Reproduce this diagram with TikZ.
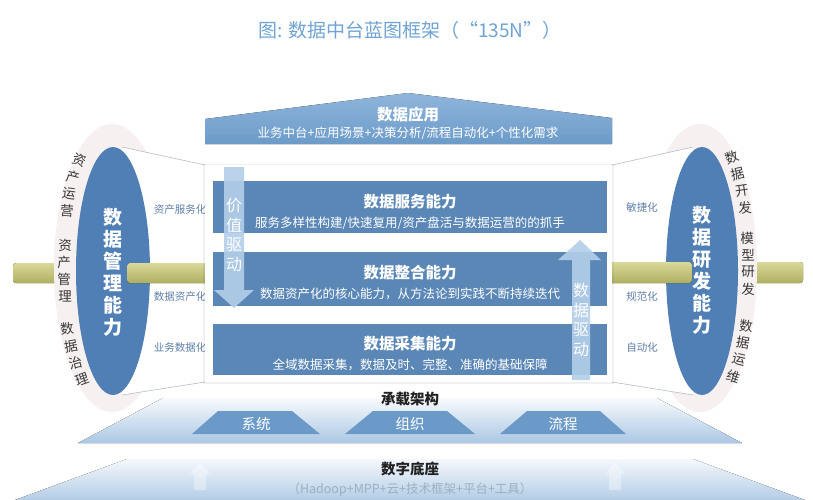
\documentclass[tikz,border=0pt]{standalone}
\usepackage{fontspec}
\setmainfont{Noto Sans CJK SC}
\usetikzlibrary{shapes.geometric}
\definecolor{boxblue}{HTML}{5B87B7}
\definecolor{ellblue}{HTML}{4F7FB4}
\definecolor{rooftop}{HTML}{8FB5DB}
\definecolor{roofbot}{HTML}{6C9BC9}
\definecolor{arrowblue}{HTML}{B3CEE8}
\definecolor{pipetop}{HTML}{D9D99A}
\definecolor{pipebot}{HTML}{AFAF62}
\definecolor{pale}{HTML}{F7F0F0}
\definecolor{titleblue}{HTML}{6FA3D3}
\definecolor{lblgray}{HTML}{5F80A8}
\definecolor{platblue}{HTML}{A6C4E2}
\definecolor{trapblue}{HTML}{6C9AC8}
\definecolor{hadoop}{HTML}{9DAFC3}
\definecolor{conegray}{HTML}{B5BDC6}
\definecolor{darktext}{HTML}{222222}
\tikzset{
  txt/.style={inner sep=0pt, outer sep=0pt},
  titletext/.style={txt, text=titleblue, font=\fontsize{19}{22}\selectfont},
  headtext/.style={txt, text=white, font=\fontsize{15.5}{18}\selectfont\bfseries},
  subtext/.style={txt, text=white, font=\fontsize{12.5}{15}\selectfont},
  vtext/.style={txt, align=center, text=white, font=\fontsize{16}{19.5}\selectfont},
  ellvtext/.style={txt, align=center, text=white, font=\fontsize{19}{22}\selectfont\bfseries},
  conelabel/.style={txt, text=lblgray, font=\fontsize{10.5}{12}\selectfont},
  bandchar/.style={txt, text=darktext!90, font=\fontsize{13.5}{15}\selectfont},
  baselabel/.style={txt, text=darktext, font=\fontsize{14.5}{17}\selectfont\bfseries},
  traplabel/.style={txt, text=white, font=\fontsize{14.5}{17}\selectfont},
  pipeshape/.style={top color=pipetop, bottom color=pipebot, rounded corners=3pt},
  paleshape/.style={ellipse, fill=pale, inner sep=0pt},
  blueell/.style={ellipse, fill=ellblue, inner sep=0pt},
  conefill/.style={fill=white},
  coneline/.style={draw=conegray, line width=0.6pt},
  layerbox/.style={fill=boxblue},
  flowarrow/.style={fill=arrowblue, fill opacity=0.9},
  fadearrow/.style={fill=white, fill opacity=0.35},
}
\begin{document}
\begin{tikzpicture}[x=1pt,y=-1pt]
\useasboundingbox (0,0) rectangle (813,500);

% title
\node[titletext] (title) at (410,30) {图: 数据中台蓝图框架（“135N”）};

% ---------- bottom: base ----------
\fill[top color=platblue!12, bottom color=platblue!85] (127,459) -- (693,459) -- (805,500) -- (15,500) -- cycle;
\fill[fadearrow] (200,462) -- (210,474) -- (206,474) -- (206,490) -- (194,490) -- (194,474) -- (190,474) -- cycle;
\fill[fadearrow] (615,462) -- (625,474) -- (621,474) -- (621,490) -- (609,490) -- (609,474) -- (605,474) -- cycle;
\node[baselabel] (base) at (410,469) {数字底座};
\node[txt, text=hadoop, font=\fontsize{12.5}{15}\selectfont] (hadoop) at (410,490) {（Hadoop+MPP+云+技术框架+平台+工具）};

% ---------- bottom: carrying architecture ----------
\fill[top color=platblue!8, bottom color=platblue!95] (163,398) -- (657,398) -- (742,443) -- (78,443) -- cycle;
\fill[trapblue] (218,411) -- (292,411) -- (320,434) -- (192,434) -- cycle;
\fill[trapblue] (373,411) -- (447,411) -- (475,434) -- (345,434) -- cycle;
\fill[trapblue] (527,411) -- (600,411) -- (626,434) -- (500,434) -- cycle;
\node[baselabel] (carry) at (410,399) {承载架构};
\node[traplabel] (sys) at (256,424) {系统};
\node[traplabel] (org) at (410,424) {组织};
\node[traplabel] (proc) at (563,424) {流程};

% ---------- left: management ----------
\fill[pipeshape] (13,263) rectangle (58,283);
\node[paleshape, minimum width=116pt, minimum height=288pt] (lpale) at (112,268) {};
\coordinate (lct) at (122,147);
\coordinate (lcb) at (122,395);
\coordinate (lpt) at (205,165);
\coordinate (lpb) at (205,382);
\fill[conefill] (lct) -- (lpt) -- (lpb) -- (lcb) -- cycle;
\draw[coneline] (lct) -- (lpt) (lcb) -- (lpb);
\node[blueell, minimum width=74pt, minimum height=248pt] (lell) at (113,271) {};
\fill[pipeshape] (127,263) rectangle (212,283);
\node[ellvtext] (lelltxt) at (113,272) {数\\据\\管\\理\\能\\力};
\node[conelabel] (l1) at (180,210) {资产服务化};
\node[conelabel] (l2) at (180,297) {数据资产化};
\node[conelabel] (l3) at (180,348) {业务数据化};
\node[bandchar, rotate=-20] (la1) at (80,160) {资};
\node[bandchar, rotate=-14] (la2) at (73,177) {产};
\node[bandchar, rotate=-8] (la3) at (69,194) {运};
\node[bandchar, rotate=-4] (la4) at (67,211) {营};
\node[bandchar] (lb1) at (65,245) {资};
\node[bandchar] (lb2) at (64,262) {产};
\node[bandchar] (lb3) at (64,279) {管};
\node[bandchar] (lb4) at (65,296) {理};
\node[bandchar, rotate=6] (lc1) at (67,329) {数};
\node[bandchar, rotate=10] (lc2) at (71,346) {据};
\node[bandchar, rotate=14] (lc3) at (76,363) {治};
\node[bandchar, rotate=19] (lc4) at (82,380) {理};

% ---------- right: development ----------
\fill[pipeshape] (752,262) rectangle (803,283);
\node[paleshape, minimum width=114pt, minimum height=288pt] (rpale) at (700,268) {};
\coordinate (rct) at (693,147);
\coordinate (rcb) at (693,395);
\coordinate (rpt) at (612,165);
\coordinate (rpb) at (612,382);
\fill[conefill] (rct) -- (rpt) -- (rpb) -- (rcb) -- cycle;
\draw[coneline] (rct) -- (rpt) (rcb) -- (rpb);
\node[blueell, minimum width=72pt, minimum height=248pt] (rell) at (702,271) {};
\fill[pipeshape] (605,262) rectangle (692,283);
\node[ellvtext] (relltxt) at (702,270) {数\\据\\研\\发\\能\\力};
\node[conelabel] (r1) at (642,208) {敏捷化};
\node[conelabel] (r2) at (642,297) {规范化};
\node[conelabel] (r3) at (642,348) {自动化};
\node[bandchar, rotate=20] (ra1) at (732,157) {数};
\node[bandchar, rotate=14] (ra2) at (738,174) {据};
\node[bandchar, rotate=8] (ra3) at (742,191) {开};
\node[bandchar, rotate=4] (ra4) at (745,208) {发};
\node[bandchar] (rb1) at (747,238) {模};
\node[bandchar] (rb2) at (748,255) {型};
\node[bandchar] (rb3) at (748,272) {研};
\node[bandchar] (rb4) at (748,289) {发};
\node[bandchar, rotate=-6] (rc1) at (746,326) {数};
\node[bandchar, rotate=-10] (rc2) at (743,343) {据};
\node[bandchar, rotate=-14] (rc3) at (739,360) {运};
\node[bandchar, rotate=-19] (rc4) at (734,377) {维};

% ---------- central panel ----------
\fill[black, opacity=0.06] (203,164) rectangle (614,384);
\fill[white] (205,165) rectangle (612,382);

% roof
\fill[top color=rooftop, bottom color=roofbot] (205,144) -- (205,119) -- (408,93) -- (612,118) -- (612,144) -- cycle;
\node[headtext] (apphead) at (408,115) {数据应用};
\node[subtext] (appsub) at (408,133) {业务中台+应用场景+决策分析/流程自动化+个性化需求};

% layers
\fill[layerbox] (213,181) rectangle (607,233);
\fill[layerbox] (213,252) rectangle (607,306);
\fill[layerbox] (213,324) rectangle (607,375);
\node[headtext] (svchead) at (410,202) {数据服务能力};
\node[subtext] (svcsub) at (410,223) {服务多样性构建/快速复用/资产盘活与数据运营的的抓手};
\node[headtext] (inthead) at (410,273) {数据整合能力};
\node[subtext] (intsub) at (410,294) {数据资产化的核心能力，从方法论到实践不断持续迭代};
\node[headtext] (colhead) at (410,344) {数据采集能力};
\node[subtext] (colsub) at (410,365) {全域数据采集，数据及时、完整、准确的基础保障};

% value-driven arrow (down)
\fill[flowarrow] (224,167) -- (244,167) -- (244,290) -- (254,290) -- (234,308) -- (214,290) -- (224,290) -- cycle;
\node[vtext] (vdrive) at (234,235) {价\\值\\驱\\动};
% data-driven arrow (up)
\fill[flowarrow] (572,380) -- (590,380) -- (590,260) -- (601,260) -- (580,240) -- (558,260) -- (572,260) -- cycle;
\node[vtext] (ddrive) at (581,320) {数\\据\\驱\\动};
\end{tikzpicture}
\end{document}
